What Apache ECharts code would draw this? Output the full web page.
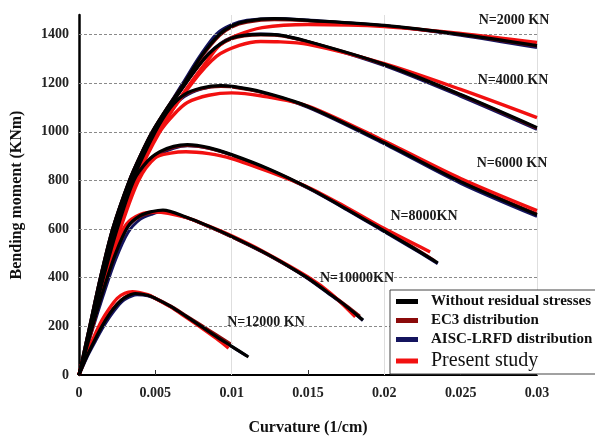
<!DOCTYPE html>
<html>
<head>
<meta charset="utf-8">
<script src="https://cdn.jsdelivr.net/npm/echarts@6/dist/echarts.min.js"></script>
<style>
  html, body { margin: 0; padding: 0; background: #fff; }
  #main { width: 595px; height: 436px; }
</style>
</head>
<body>
<div id="main"></div>
<script>
// tick values
const xTicks = [0.005, 0.01, 0.015, 0.02, 0.025];
const yTicks = [200, 400, 600, 800, 1000, 1200, 1400];

// N = 2000 KN
const without2000 = [[0,0],[0.0007,200],[0.0014,400],[0.0022,600],[0.0033,800],[0.004,900],[0.0048,1000],[0.0058,1100],[0.0069,1200],[0.008,1310],[0.0092,1400],[0.01,1435],[0.011,1455],[0.0128,1465],[0.015,1458],[0.02,1437],[0.025,1400],[0.03,1354]];
const ec3_2000 = [[0,0],[0.0007,200],[0.0014,400],[0.0022,600],[0.0033,800],[0.004,900],[0.0048,1000],[0.0058,1100],[0.0069,1200],[0.008,1305],[0.0092,1395],[0.01,1430],[0.011,1450],[0.0128,1460],[0.015,1456],[0.02,1436],[0.025,1400],[0.03,1352]];
const aisc2000 = [[0,0],[0.0007,200],[0.0014,400],[0.0022,600],[0.0033,800],[0.004,900],[0.0048,1000],[0.0058,1100],[0.0068,1200],[0.0079,1310],[0.009,1402],[0.01,1440],[0.011,1458],[0.0128,1466],[0.015,1459],[0.02,1436],[0.025,1397],[0.03,1346]];
const present2000 = [[0,0],[0.0008,200],[0.0016,400],[0.0025,600],[0.0036,800],[0.0052,1000],[0.0073,1200],[0.0085,1300],[0.0092,1355],[0.0103,1395],[0.012,1428],[0.015,1441],[0.02,1433],[0.025,1404],[0.03,1367]];

// N = 4000 KN
const without4000 = [[0,0],[0.0008,200],[0.0015,400],[0.0023,600],[0.0034,800],[0.0049,1000],[0.007,1200],[0.0085,1320],[0.01,1385],[0.0119,1400],[0.013,1398],[0.015,1371],[0.02,1277],[0.025,1153],[0.03,1017]];
const ec3_4000 = [[0,0],[0.0008,200],[0.0015,400],[0.0023,600],[0.0034,800],[0.0049,1000],[0.007,1200],[0.0085,1318],[0.01,1382],[0.0119,1398],[0.013,1396],[0.015,1370],[0.02,1276],[0.025,1152],[0.03,1015]];
const aisc4000 = [[0,0],[0.0008,200],[0.0015,400],[0.0023,600],[0.0034,800],[0.0049,1000],[0.007,1200],[0.0085,1322],[0.01,1388],[0.0119,1402],[0.013,1399],[0.015,1370],[0.02,1272],[0.025,1146],[0.03,1010]];
const present4000 = [[0,0],[0.0008,200],[0.0016,400],[0.0025,600],[0.0036,800],[0.0052,1000],[0.0074,1200],[0.009,1310],[0.0105,1355],[0.0119,1371],[0.013,1370],[0.015,1359],[0.02,1280],[0.025,1174],[0.03,1058]];

// N = 6000 KN
const without6000 = [[0,0],[0.0008,200],[0.0015,400],[0.0024,600],[0.0035,800],[0.005,1000],[0.006,1100],[0.0069,1153],[0.008,1180],[0.0093,1190],[0.01,1187],[0.0119,1165],[0.015,1104],[0.02,955],[0.025,795],[0.03,659]];
const ec3_6000 = [[0,0],[0.0008,200],[0.0015,400],[0.0024,600],[0.0035,800],[0.005,1000],[0.006,1098],[0.0069,1150],[0.008,1177],[0.0093,1186],[0.01,1184],[0.0119,1163],[0.015,1103],[0.02,956],[0.025,797],[0.03,662]];
const aisc6000 = [[0,0],[0.0008,200],[0.0015,400],[0.0024,600],[0.0035,800],[0.005,995],[0.006,1090],[0.0069,1145],[0.008,1176],[0.0093,1188],[0.01,1186],[0.0119,1163],[0.015,1100],[0.02,950],[0.025,788],[0.03,652]];
const present6000 = [[0,0],[0.0008,200],[0.0016,400],[0.0025,600],[0.0037,800],[0.0053,1000],[0.0062,1070],[0.0071,1120],[0.0085,1150],[0.01,1160],[0.0119,1148],[0.015,1106],[0.02,962],[0.025,808],[0.03,676]];

// N = 8000 KN
const without8000 = [[0,0],[0.0008,200],[0.0016,400],[0.0025,600],[0.0036,800],[0.0045,880],[0.0053,918],[0.0062,940],[0.0071,947],[0.0085,935],[0.01,906],[0.0125,845],[0.015,770],[0.0175,683],[0.02,592],[0.0215,537],[0.0235,461]];
const ec3_8000 = [[0,0],[0.0008,200],[0.0016,400],[0.0025,600],[0.0036,800],[0.0045,878],[0.0053,915],[0.0062,936],[0.0071,943],[0.0085,932],[0.01,904],[0.0125,843],[0.015,770],[0.0175,685],[0.02,594],[0.0215,540],[0.0233,470]];
const aisc8000 = [[0,0],[0.0008,195],[0.0016,390],[0.0025,585],[0.0036,785],[0.0045,868],[0.0053,908],[0.0062,932],[0.0071,942],[0.0085,932],[0.01,904],[0.0125,842],[0.015,768],[0.0175,681],[0.02,589],[0.0215,534],[0.0235,458]];
const present8000 = [[0,0],[0.0009,200],[0.0017,400],[0.0027,600],[0.0039,800],[0.005,893],[0.006,912],[0.007,918],[0.0085,910],[0.01,890],[0.0125,835],[0.015,772],[0.0175,690],[0.02,602],[0.023,506]];

// N = 10000 KN
const without10000 = [[0,0],[0.0008,180],[0.0016,350],[0.0024,500],[0.0032,610],[0.004,655],[0.0048,672],[0.0055,678],[0.007,650],[0.0085,612],[0.01,570],[0.012,508],[0.0138,445],[0.015,398],[0.0165,330],[0.0175,283],[0.0186,226]];
const ec3_10000 = [[0,0],[0.0008,182],[0.0016,352],[0.0024,502],[0.0032,610],[0.004,652],[0.0048,668],[0.0055,674],[0.007,648],[0.0085,610],[0.01,568],[0.012,507],[0.0138,444],[0.015,398],[0.0165,332],[0.0175,286],[0.0184,242]];
const aisc10000 = [[0,0],[0.0008,170],[0.0016,330],[0.0024,475],[0.0032,585],[0.004,640],[0.0048,662],[0.0055,672],[0.007,648],[0.0085,610],[0.01,568],[0.012,506],[0.0138,443],[0.015,396],[0.0165,328],[0.0175,281],[0.0186,224]];
const present10000 = [[0,0],[0.0008,200],[0.0016,380],[0.0024,530],[0.0031,620],[0.004,660],[0.005,670],[0.007,648],[0.0085,612],[0.01,572],[0.012,510],[0.015,403],[0.0165,335],[0.0181,239]];

// N = 12000 KN
const without12000 = [[0,0],[0.0005,75],[0.001,140],[0.0015,200],[0.002,250],[0.0025,290],[0.003,318],[0.0037,335],[0.0045,328],[0.005,315],[0.006,282],[0.007,242],[0.008,200],[0.009,158],[0.01,118],[0.0111,74]];
const ec3_12000 = [[0,0],[0.0005,78],[0.001,145],[0.0015,205],[0.002,255],[0.0025,293],[0.003,320],[0.0036,336],[0.0045,329],[0.005,316],[0.006,284],[0.007,245],[0.008,205],[0.009,165],[0.01,125]];
const aisc12000 = [[0,0],[0.0005,70],[0.001,130],[0.0015,188],[0.002,238],[0.0025,280],[0.003,310],[0.0038,330],[0.0045,326],[0.005,314],[0.006,281],[0.007,241],[0.008,199],[0.009,157],[0.01,117],[0.011,78]];
const present12000 = [[0,0],[0.0005,85],[0.001,160],[0.0015,225],[0.002,275],[0.0025,315],[0.003,336],[0.0035,342],[0.0045,330],[0.005,315],[0.006,280],[0.007,238],[0.008,195],[0.009,150],[0.0098,110]];

const groups = [
  [without2000, ec3_2000, aisc2000, present2000],
  [without4000, ec3_4000, aisc4000, present4000],
  [without6000, ec3_6000, aisc6000, present6000],
  [without8000, ec3_8000, aisc8000, present8000],
  [without10000, ec3_10000, aisc10000, present10000],
  [without12000, ec3_12000, aisc12000, present12000]
];

const names = ['Without residual stresses', 'EC3 distribution', 'AISC-LRFD distribution', 'Present study'];
const colors = ['#000000', '#8b0a0a', '#14145e', '#f21010'];
const widths = [3.2, 3, 3, 3.4];
const zs = [4, 2, 1, 3];

const serif = '"Liberation Serif", "Times New Roman", serif';

const series = [];
groups.forEach(g => {
  g.forEach((d, i) => {
    series.push({
      name: names[i],
      type: 'line',
      data: d,
      smooth: 0.3,
      symbol: 'none',
      z: zs[i] + 2,
      lineStyle: { color: colors[i], width: widths[i] },
      itemStyle: { color: colors[i] }
    });
  });
});

// grid lines: horizontal dashed, vertical light solid
series.push({
  type: 'line',
  data: [],
  silent: true,
  z: 1,
  markLine: {
    silent: true,
    symbol: 'none',
    label: { show: false },
    lineStyle: { color: '#8a8a8a', type: [3, 2], width: 1 },
    data: yTicks.map(v => ({ yAxis: v }))
  }
});
series.push({
  type: 'line',
  data: [],
  silent: true,
  z: 1,
  markLine: {
    silent: true,
    symbol: 'none',
    label: { show: false },
    lineStyle: { color: '#dedede', type: 'solid', width: 1 },
    data: xTicks.map(v => ({ xAxis: v }))
  }
});

const labelStyle = { fontFamily: serif, fontWeight: 'bold', fontSize: 14, fill: '#1a1a1a', align: 'center', verticalAlign: 'middle' };
const nLabels = [
  ['N=2000 KN', 514, 20],
  ['N=4000 KN', 513, 80],
  ['N=6000 KN', 512, 163],
  ['N=8000KN', 424, 216],
  ['N=10000KN', 357, 278],
  ['N=12000 KN', 266, 322]
];

const myChart = echarts.init(document.getElementById('main'));
const option = {
  backgroundColor: '#fff',
  animation: false,
  grid: { left: 79, right: 58, top: 15, bottom: 61, containLabel: false, outerBoundsMode: 'none' },
  xAxis: {
    type: 'value',
    min: 0,
    max: 0.03,
    interval: 0.005,
    name: 'Curvature (1/cm)',
    nameLocation: 'middle',
    nameGap: 45,
    nameTextStyle: { fontFamily: serif, fontWeight: 'bold', fontSize: 16, color: '#111' },
    axisLine: { lineStyle: { color: '#000', width: 2 } },
    axisTick: { inside: true, length: 5, lineStyle: { color: '#333' } },
    axisLabel: { fontFamily: serif, fontWeight: 'bold', fontSize: 14, color: '#222', margin: 11 },
    splitLine: { show: false }
  },
  yAxis: {
    type: 'value',
    min: 0,
    max: 1480,
    interval: 200,
    name: 'Bending moment (KNm)',
    nameLocation: 'middle',
    nameGap: 54,
    nameTextStyle: { fontFamily: serif, fontWeight: 'bold', fontSize: 16, color: '#111' },
    axisLine: { show: true, lineStyle: { color: '#000', width: 2.5 } },
    axisTick: { show: false },
    axisLabel: {
      fontFamily: serif, fontWeight: 'bold', fontSize: 14, color: '#222', margin: 10,
      formatter: v => (v % 200 === 0 ? v : '')
    },
    splitLine: { show: false }
  },
  legend: {
    left: 390,
    top: 290,
    z: 20,
    orient: 'vertical',
    icon: 'rect',
    itemWidth: 22,
    itemHeight: 5,
    itemGap: 4,
    padding: [4, 6, 3, 6],
    backgroundColor: '#fff',
    borderColor: '#444',
    borderWidth: 1,
    textStyle: { fontFamily: serif, fontWeight: 'bold', fontSize: 15, lineHeight: 14, color: '#111', padding: [0, 0, 0, 8] },
    data: [
      { name: names[0] },
      { name: names[1] },
      { name: names[2] },
      { name: names[3], textStyle: { fontWeight: 'normal', fontSize: 20, lineHeight: 16 } }
    ]
  },
  graphic: nLabels.map(l => ({
    type: 'text',
    x: l[1],
    y: l[2],
    z: 10,
    style: Object.assign({ text: l[0] }, labelStyle)
  })),
  series: series
};
myChart.setOption(option);
</script>
</body>
</html>
